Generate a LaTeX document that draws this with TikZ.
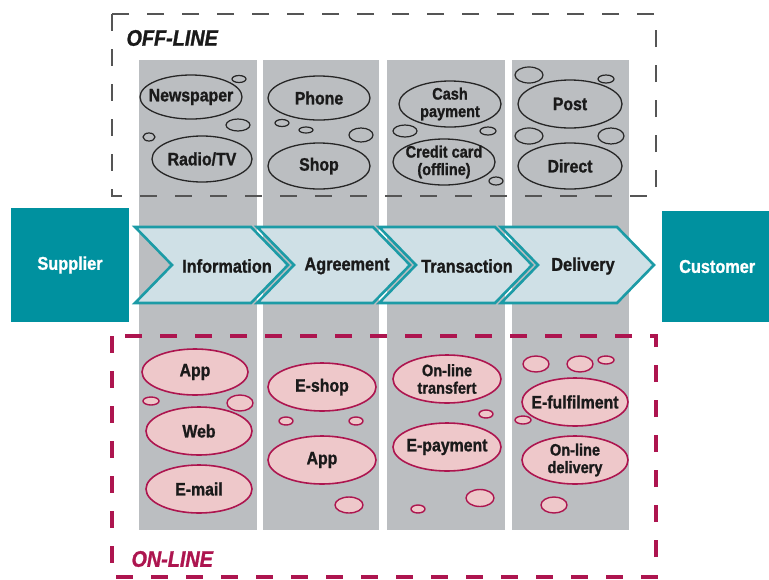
\documentclass[tikz,border=0pt]{standalone}
\usepackage{fontspec}
\setmainfont{Liberation Sans}
\newfontfamily\cf{Liberation Sans}[FakeStretch=0.88, FakeBold=1.2]
\usetikzlibrary{shapes.geometric}
\definecolor{colgray}{HTML}{BBBEC1}
\definecolor{tealbox}{HTML}{00919F}
\definecolor{chevfill}{HTML}{CFE0E6}
\definecolor{chevline}{HTML}{1C9BA6}
\definecolor{pinkfill}{HTML}{EEC8CA}
\definecolor{crim}{HTML}{AD154F}
\definecolor{dgray}{HTML}{555555}
\definecolor{txt}{HTML}{1A1A1A}
\tikzset{
  colbox/.style={fill=colgray, draw=none},
  offbox/.style={draw=dgray, line width=2pt, dash pattern=on 17pt off 18pt},
  onbox/.style={draw=crim, line width=3.2pt, dash pattern=on 17pt off 18pt},
  party/.style={fill=tealbox, draw=none, text=white, font=\cf\bfseries\fontsize{18.5}{18.5}\selectfont},
  chev/.style={fill=chevfill, draw=chevline, line width=2.6pt, line join=miter},
  chevtext/.style={text=txt, font=\cf\bfseries\fontsize{18.5}{18.5}\selectfont},
  bigtxt/.style={text=txt, align=center, inner sep=0pt, font=\cf\bfseries\fontsize{18}{18}\selectfont},
  smalltxt/.style={text=txt, align=center, inner sep=0pt, font=\cf\bfseries\fontsize{16.5}{17.5}\selectfont},
  off/.style={ellipse, draw=black!85, line width=1.3pt, inner sep=0pt, label={[bigtxt]center:#1}},
  offs/.style={ellipse, draw=black!85, line width=1.3pt, inner sep=0pt, label={[smalltxt]center:#1}},
  offb/.style={ellipse, draw=black!85, line width=1.2pt, inner sep=0pt},
  on/.style={ellipse, draw=crim, fill=pinkfill, line width=1.6pt, inner sep=0pt, label={[bigtxt]center:#1}},
  ons/.style={ellipse, draw=crim, fill=pinkfill, line width=1.6pt, inner sep=0pt, label={[smalltxt]center:#1}},
  onb/.style={ellipse, draw=crim, fill=pinkfill, line width=1.4pt, inner sep=0pt},
  grouplabel/.style={font=\cf\bfseries\itshape\fontsize{22.5}{22.5}\selectfont, anchor=west}
}
\begin{document}
\begin{tikzpicture}[x=1pt, y=-1pt]
\useasboundingbox (0,0) rectangle (769,579);
% columns
\fill[colbox] (139,60) rectangle (257,530);
\fill[colbox] (263,60) rectangle (379,530);
\fill[colbox] (387,60) rectangle (505,530);
\fill[colbox] (512,60) rectangle (629,530);
% dashed group boxes
\draw[offbox] (112,14) rectangle (656,196);
\draw[onbox] (112,336) rectangle (656,577);
\node[grouplabel, text=txt] (offl) at (123,38) {OFF-LINE};
\node[grouplabel, text=crim] (onl) at (128,559) {ON-LINE};
% supplier / customer
\node[party, minimum width=118, minimum height=114] (sup) at (70,265) {Supplier};
\node[party, minimum width=110, minimum height=111, anchor=west] (cus) at (662,266.5) {Customer};
% chevrons
\foreach \x in {135,257,379,501}{
  \draw[chev] (\x,227) -- ++(116,0) -- ++(37,38) -- ++(-37,38) -- ++(-116,0) -- ++(37,-38) -- cycle;
}
\node[chevtext] (info) at (227,266) {Information};
\node[chevtext] (agr) at (347,266) {Agreement};
\node[chevtext] (tra) at (467,266) {Transaction};
\node[chevtext] (del) at (583,266) {Delivery};
% off-line column 1
\node[off={Newspaper}, minimum width=102, minimum height=44] (newsp) at (191,97) {};
\node[offb, minimum width=14, minimum height=7] (ob1) at (239,79) {};
\node[offb, minimum width=24, minimum height=12] (ob2) at (238,125) {};
\node[offb, minimum width=12, minimum height=8] (ob3) at (149,137) {};
\node[off={Radio/TV}, minimum width=100, minimum height=46] (radio) at (202,159) {};
% off-line column 2
\node[off={Phone}, minimum width=102, minimum height=44] (phone) at (319,98) {};
\node[offb, minimum width=14, minimum height=7] (ob4) at (282,123) {};
\node[offb, minimum width=14, minimum height=6] (ob5) at (306,130) {};
\node[offb, minimum width=24, minimum height=14] (ob6) at (361,135) {};
\node[off={Shop}, minimum width=102, minimum height=46] (shop) at (319,166) {};
% off-line column 3
\node[offs={Cash\\payment}, minimum width=102, minimum height=46] (cash) at (450,104) {};
\node[offb, minimum width=24, minimum height=12] (ob7) at (405,131) {};
\node[offb, minimum width=16, minimum height=8] (ob8) at (488,131) {};
\node[offs={Credit card\\(offline)}, minimum width=102, minimum height=46] (ccard) at (444,162) {};
\node[offb, minimum width=14, minimum height=8] (ob9) at (496,181) {};
% off-line column 4
\node[offb, minimum width=28, minimum height=16] (ob10) at (529,75) {};
\node[offb, minimum width=16, minimum height=8] (ob11) at (606,79) {};
\node[off={Post}, minimum width=104, minimum height=48] (post) at (570,104) {};
\node[offb, minimum width=28, minimum height=16] (ob12) at (529,136) {};
\node[offb, minimum width=26, minimum height=16] (ob13) at (611,136) {};
\node[off={Direct}, minimum width=104, minimum height=46] (direct) at (570,166) {};
% on-line column 1
\node[on={App}, minimum width=106, minimum height=46] (app1) at (195,372) {};
\node[onb, minimum width=16, minimum height=8] (nb1) at (151,401) {};
\node[onb, minimum width=26, minimum height=16] (nb2) at (240,403) {};
\node[on={Web}, minimum width=106, minimum height=48] (web) at (199,431) {};
\node[on={E-mail}, minimum width=106, minimum height=48] (email) at (199,489) {};
% on-line column 2
\node[on={E-shop}, minimum width=108, minimum height=48] (eshop) at (322,387) {};
\node[onb, minimum width=14, minimum height=8] (nb3) at (286,421) {};
\node[onb, minimum width=14, minimum height=8] (nb4) at (356,421) {};
\node[on={App}, minimum width=108, minimum height=48] (app2) at (322,460) {};
\node[onb, minimum width=28, minimum height=16] (nb5) at (349,505) {};
% on-line column 3
\node[ons={On-line\\transfert}, minimum width=108, minimum height=48] (otr) at (447,379) {};
\node[onb, minimum width=14, minimum height=8] (nb6) at (486,414) {};
\node[on={E-payment}, minimum width=108, minimum height=48] (epay) at (447,447) {};
\node[onb, minimum width=28, minimum height=17] (nb7) at (480,498) {};
\node[onb, minimum width=14, minimum height=8] (nb8) at (418,509) {};
% on-line column 4
\node[onb, minimum width=26, minimum height=16] (nb9) at (536,364) {};
\node[onb, minimum width=26, minimum height=16] (nb10) at (580,364) {};
\node[onb, minimum width=16, minimum height=8] (nb11) at (606,360) {};
\node[on={E-fulfilment}, minimum width=106, minimum height=48] (eful) at (575,402) {};
\node[onb, minimum width=16, minimum height=8] (nb12) at (523,420) {};
\node[ons={On-line\\delivery}, minimum width=106, minimum height=48] (odel) at (575,460) {};
\node[onb, minimum width=26, minimum height=16] (nb13) at (554,505) {};
\end{tikzpicture}
\end{document}
